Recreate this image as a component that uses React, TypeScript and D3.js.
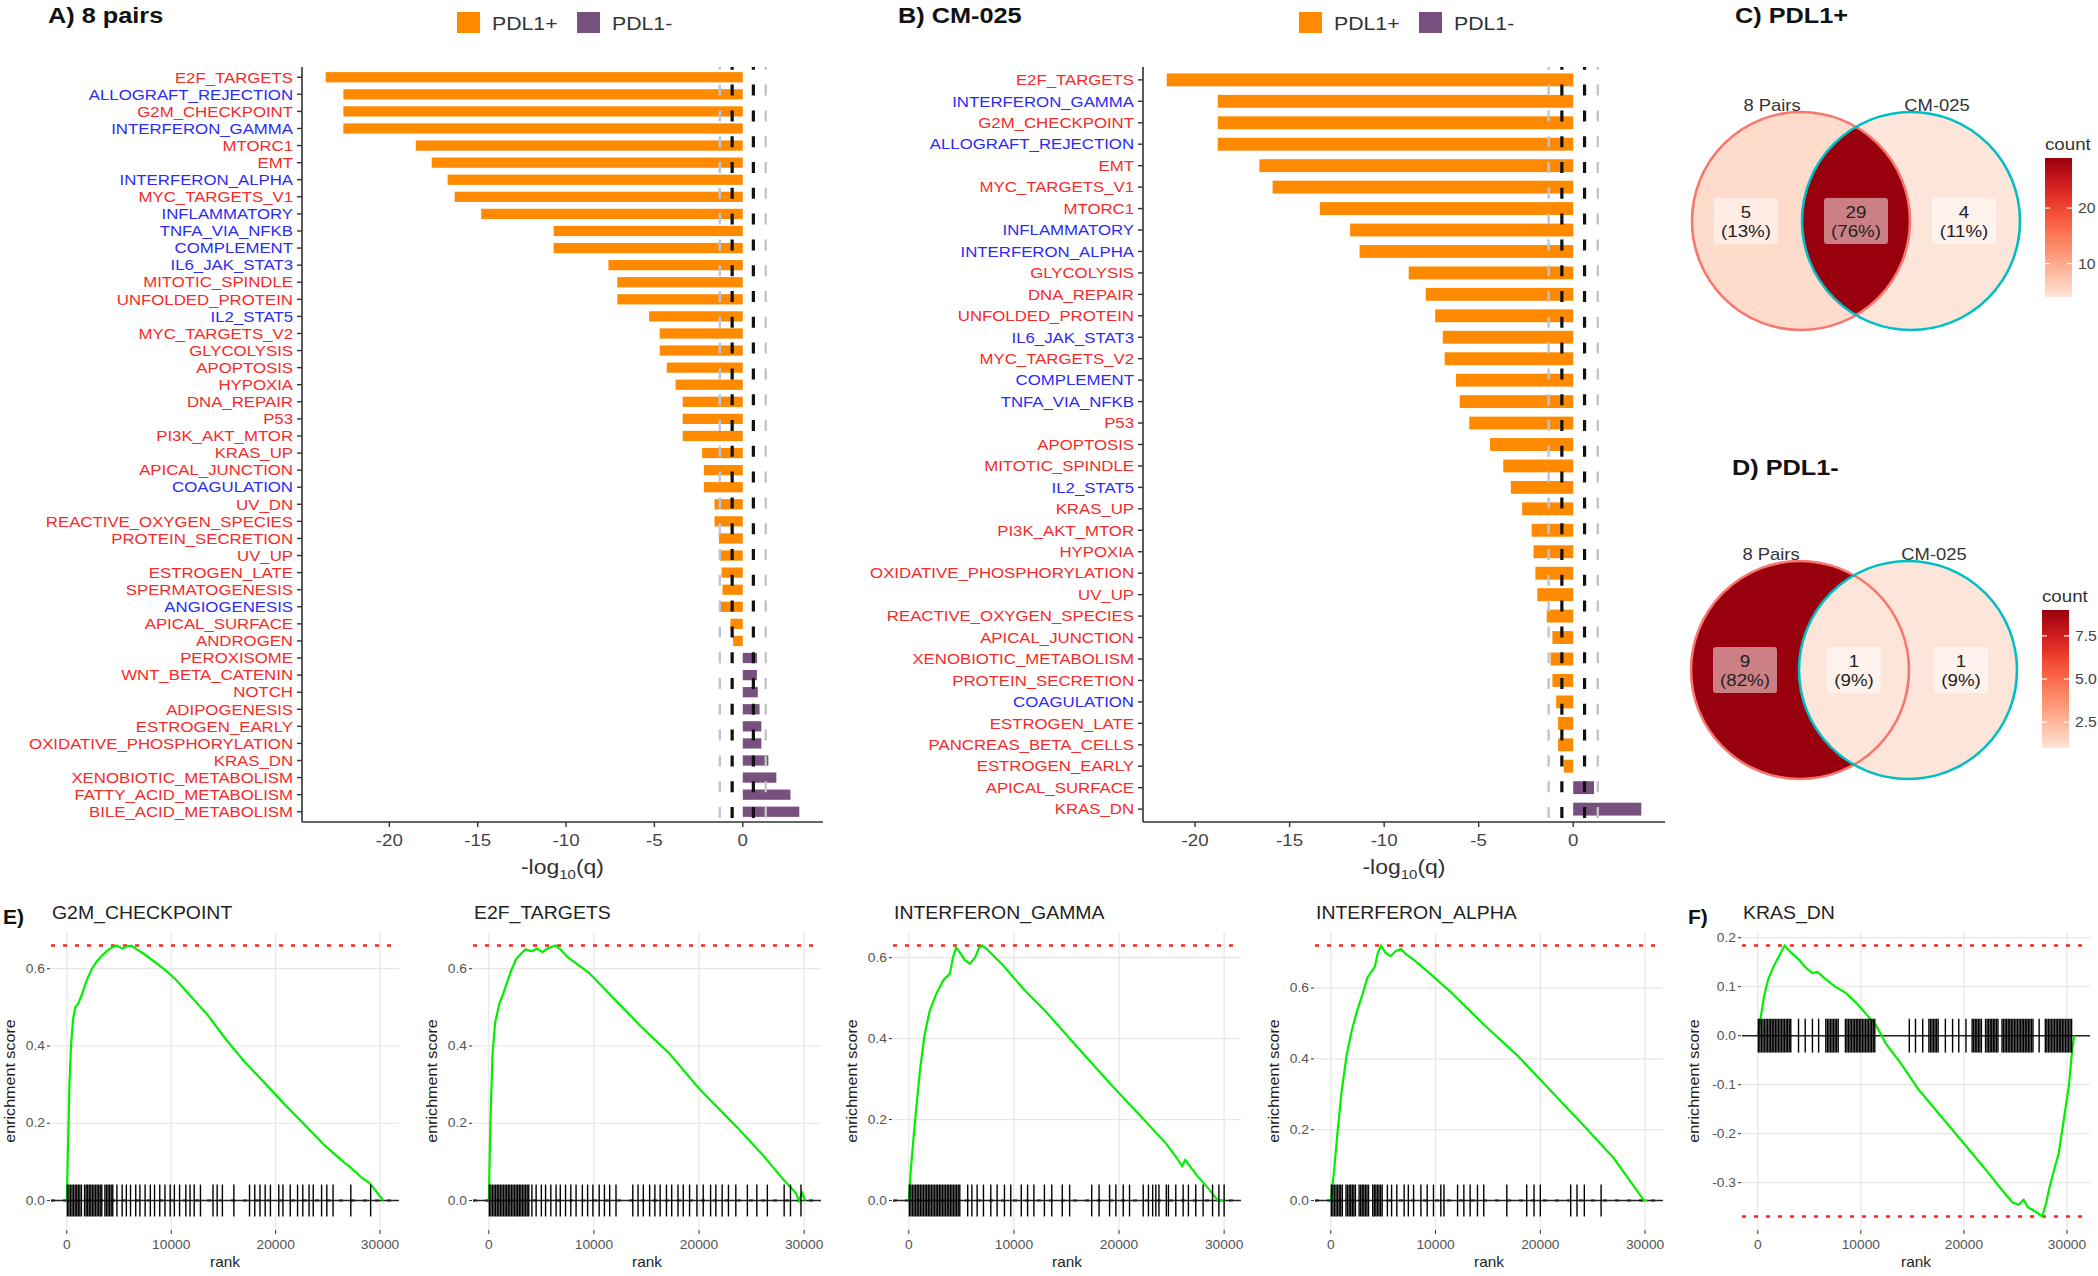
import React from "react";
import * as d3 from "d3";

const FONT = "'Liberation Sans', Arial, Helvetica, sans-serif";
const W = 2098;
const H = 1276;

// ---------------- Panel A: 8 pairs ----------------
const pathwaysA = ["E2F_TARGETS","ALLOGRAFT_REJECTION","G2M_CHECKPOINT","INTERFERON_GAMMA","MTORC1","EMT","INTERFERON_ALPHA","MYC_TARGETS_V1","INFLAMMATORY","TNFA_VIA_NFKB","COMPLEMENT","IL6_JAK_STAT3","MITOTIC_SPINDLE","UNFOLDED_PROTEIN","IL2_STAT5","MYC_TARGETS_V2","GLYCOLYSIS","APOPTOSIS","HYPOXIA","DNA_REPAIR","P53","PI3K_AKT_MTOR","KRAS_UP","APICAL_JUNCTION","COAGULATION","UV_DN","REACTIVE_OXYGEN_SPECIES","PROTEIN_SECRETION","UV_UP","ESTROGEN_LATE","SPERMATOGENESIS","ANGIOGENESIS","APICAL_SURFACE","ANDROGEN","PEROXISOME","WNT_BETA_CATENIN","NOTCH","ADIPOGENESIS","ESTROGEN_EARLY","OXIDATIVE_PHOSPHORYLATION","KRAS_DN","XENOBIOTIC_METABOLISM","FATTY_ACID_METABOLISM","BILE_ACID_METABOLISM"];
const scoreA = [-23.6,-22.6,-22.6,-22.6,-18.5,-17.6,-16.7,-16.3,-14.8,-10.7,-10.7,-7.6,-7.1,-7.1,-5.3,-4.7,-4.7,-4.3,-3.8,-3.4,-3.4,-3.4,-2.3,-2.2,-2.2,-1.6,-1.6,-1.35,-1.3,-1.2,-1.15,-1.3,-0.7,-0.55,0.8,0.8,0.85,0.95,1.05,1.05,1.45,1.9,2.7,3.2];

// ---------------- Panel B: CM-025 ----------------
const pathwaysB = ["E2F_TARGETS","INTERFERON_GAMMA","G2M_CHECKPOINT","ALLOGRAFT_REJECTION","EMT","MYC_TARGETS_V1","MTORC1","INFLAMMATORY","INTERFERON_ALPHA","GLYCOLYSIS","DNA_REPAIR","UNFOLDED_PROTEIN","IL6_JAK_STAT3","MYC_TARGETS_V2","COMPLEMENT","TNFA_VIA_NFKB","P53","APOPTOSIS","MITOTIC_SPINDLE","IL2_STAT5","KRAS_UP","PI3K_AKT_MTOR","HYPOXIA","OXIDATIVE_PHOSPHORYLATION","UV_UP","REACTIVE_OXYGEN_SPECIES","APICAL_JUNCTION","XENOBIOTIC_METABOLISM","PROTEIN_SECRETION","COAGULATION","ESTROGEN_LATE","PANCREAS_BETA_CELLS","ESTROGEN_EARLY","APICAL_SURFACE","KRAS_DN"];
const scoreB = [-21.5,-18.8,-18.8,-18.8,-16.6,-15.9,-13.4,-11.8,-11.3,-8.7,-7.8,-7.3,-6.9,-6.8,-6.2,-6.0,-5.5,-4.4,-3.7,-3.3,-2.7,-2.2,-2.1,-2.0,-1.9,-1.4,-1.1,-1.2,-1.1,-0.9,-0.8,-0.8,-0.5,1.1,3.6];

const immunePathways = ["ALLOGRAFT_REJECTION","INTERFERON_GAMMA","INTERFERON_ALPHA","INFLAMMATORY","TNFA_VIA_NFKB","COMPLEMENT","IL6_JAK_STAT3","IL2_STAT5","COAGULATION","ANGIOGENESIS"];
const thresholds = [-1.3, -0.6, 0.6, 1.3];
const barTicks = [-20, -15, -10, -5, 0];
const legendLabels = ["PDL1+", "PDL1-"];

// ---------------- Venn C / D ----------------
const vennSets = ["8 Pairs", "CM-025"];
const vennPosCounts = [5, 29, 4]; // 8 Pairs only, both, CM-025 only
const vennNegCounts = [9, 1, 1];
const vennPosBreaks = [10, 20];
const vennPosBreakLabels = ["10", "20"];
const vennNegBreaks = [2.5, 5.0, 7.5];
const vennNegBreakLabels = ["2.5", "5.0", "7.5"];

// ---------------- GSEA running sums (rank in thousands, ES) ----------------
const gseaTitles = ["G2M_CHECKPOINT", "E2F_TARGETS", "INTERFERON_GAMMA", "INTERFERON_ALPHA", "KRAS_DN"];
const rankTicks = [0, 10, 20, 30];

const esG2M = [[0,0],[0.1,0.12],[0.25,0.3],[0.4,0.4],[0.6,0.47],[0.8,0.5],[1.1,0.51],[1.4,0.53],[1.9,0.57],[2.4,0.6],[2.9,0.62],[3.4,0.635],[3.8,0.645],[4.3,0.655],[4.8,0.66],[5.3,0.652],[5.8,0.658],[6.2,0.66],[6.6,0.652],[7.3,0.64],[8.3,0.62],[9.5,0.595],[10.5,0.57],[12,0.525],[13.5,0.48],[15.3,0.415],[17,0.36],[19.1,0.3],[21,0.245],[23,0.19],[24.8,0.14],[26.5,0.1],[27.2,0.085],[28.2,0.06],[29,0.045],[29.6,0.025],[30.3,0]];
const esE2F = [[0,0],[0.15,0.2],[0.35,0.38],[0.6,0.46],[1,0.51],[1.3,0.53],[1.8,0.57],[2.2,0.6],[2.6,0.625],[3.1,0.64],[3.5,0.65],[4.1,0.645],[4.6,0.652],[5.1,0.643],[5.6,0.653],[6.35,0.66],[6.9,0.648],[7.5,0.63],[9.5,0.59],[12,0.52],[14.5,0.45],[17.2,0.38],[20,0.29],[23.6,0.19],[26,0.12],[28,0.055],[29.2,0.02],[29.5,0.0],[29.8,0.02],[30.1,0.0]];
const esIFNG = [[0,0],[0.2,0.08],[0.5,0.17],[0.75,0.24],[1.1,0.33],[1.5,0.41],[2,0.47],[2.6,0.51],[3.3,0.545],[3.9,0.56],[4.2,0.6],[4.5,0.625],[4.8,0.615],[5.3,0.595],[5.8,0.585],[6.3,0.6],[6.7,0.625],[7.0,0.63],[7.4,0.622],[9,0.58],[11,0.52],[13.1,0.465],[16,0.38],[19.3,0.285],[22,0.21],[24.5,0.14],[25.5,0.105],[26,0.085],[26.3,0.1],[27.4,0.062],[28.5,0.03],[29.4,0.0],[30.1,0.0]];
const esIFNA = [[0,0],[0.3,0.08],[0.6,0.18],[1,0.3],[1.5,0.41],[2,0.48],[2.5,0.535],[3,0.58],[3.5,0.63],[4.2,0.66],[4.5,0.7],[4.8,0.72],[5.2,0.7],[5.7,0.69],[6.2,0.705],[6.7,0.71],[7.2,0.695],[7.9,0.68],[9.5,0.64],[11.4,0.59],[14.5,0.5],[17.8,0.41],[21,0.31],[24.2,0.21],[27,0.12],[29.9,0.0],[30.2,0.0]];
const esKRASDN = [[0,0],[0.3,0.04],[0.6,0.08],[1,0.115],[1.5,0.14],[2,0.16],[2.6,0.184],[3.2,0.17],[4,0.155],[4.6,0.14],[5.3,0.128],[5.8,0.13],[6.6,0.115],[7.5,0.1],[8.5,0.088],[9.5,0.068],[10.4,0.047],[11.5,0.02],[12.4,-0.015],[14,-0.06],[15.6,-0.11],[18,-0.17],[20,-0.22],[22.1,-0.273],[23.5,-0.31],[24.7,-0.34],[25.3,-0.345],[25.8,-0.335],[26.2,-0.35],[27,-0.36],[27.6,-0.369],[28.0,-0.34],[28.3,-0.31],[28.8,-0.27],[29.2,-0.24],[29.7,-0.17],[30.2,-0.1],[30.5,-0.03],[30.7,0]];

// gene-set hit positions (rank in thousands)
const hitsG2M = [0.05,0.2,0.35,0.5,0.65,0.8,0.95,1.1,1.25,1.4,1.7,1.85,2.0,2.15,2.3,2.45,2.6,2.75,2.9,3.05,3.2,3.35,3.65,3.8,3.95,4.1,4.25,4.4,4.8,5.3,5.7,6.1,6.6,7.0,7.5,8.0,8.4,8.9,9.4,9.9,10.3,10.8,11.4,11.8,12.2,12.8,14.0,14.4,14.9,16.0,17.5,18.0,18.5,19.0,19.5,20.3,20.7,21.4,22.1,22.6,23.2,23.6,24.4,24.9,25.5,27.2,29.1];
const hitsE2F = [0.05,0.2,0.35,0.5,0.65,0.8,0.95,1.1,1.25,1.4,1.55,1.7,1.85,2.0,2.15,2.3,2.45,2.6,2.75,2.9,3.05,3.2,3.35,3.5,3.65,3.8,4.1,4.5,5.0,5.4,5.9,6.4,6.8,7.3,7.8,8.3,8.9,9.4,9.9,10.5,11.0,11.5,12.1,13.7,14.2,14.7,15.3,15.8,16.3,16.9,17.4,18.0,18.5,19.1,19.8,20.4,21.1,21.6,22.2,22.8,23.5,24.6,25.5,26.5,28.1,28.7,29.7];
const hitsIFNG = [0.05,0.2,0.35,0.5,0.65,0.8,0.95,1.1,1.25,1.4,1.55,1.7,1.85,2.0,2.15,2.3,2.45,2.6,2.75,2.9,3.05,3.2,3.35,3.5,3.65,3.8,3.95,4.1,4.25,4.4,4.55,4.7,4.85,5.6,6.0,6.5,7.1,7.8,8.4,9.1,9.7,10.7,11.3,11.9,12.9,13.6,14.6,15.3,17.4,18.1,19.1,19.7,20.4,21.0,22.3,22.8,23.2,23.5,23.8,24.5,24.7,25.4,26.1,26.6,27.3,28.0,28.9,29.5,30.0];
const hitsIFNA = [0.05,0.2,0.35,0.5,0.65,0.8,0.95,1.1,1.45,1.6,1.75,1.9,2.05,2.2,2.35,2.7,2.85,3.0,3.15,3.3,3.45,3.6,4.0,4.15,4.3,4.45,4.6,4.75,4.9,5.4,5.8,6.3,7.0,7.4,7.9,8.6,9.2,9.8,10.5,10.8,12.1,12.7,13.3,14.0,14.6,16.8,18.7,19.4,20.0,22.9,23.5,24.2,25.8];
const hitsKRASDN = [0.05,0.2,0.35,0.5,0.65,0.8,0.95,1.1,1.25,1.4,1.55,1.7,1.85,2.0,2.15,2.3,2.45,2.6,2.75,2.9,3.05,3.2,3.95,4.6,5.3,5.9,6.6,6.75,6.9,7.05,7.2,7.35,7.5,7.65,7.8,8.5,8.65,8.8,8.95,9.1,9.25,9.4,9.55,9.7,9.85,10.0,10.15,10.3,10.45,10.6,10.75,10.9,11.05,11.2,11.35,14.7,15.3,16.0,16.6,16.75,16.9,17.05,17.2,17.35,17.5,18.2,18.9,19.5,20.2,20.8,20.95,21.1,21.25,21.4,21.55,21.7,22.1,22.25,22.4,22.55,22.7,22.85,23.0,23.15,23.3,23.7,23.85,24.0,24.15,24.3,24.45,24.6,24.75,24.9,25.05,25.2,25.35,25.5,25.65,25.8,25.95,26.1,26.25,26.4,26.55,26.7,27.3,27.9,28.05,28.2,28.35,28.5,28.65,28.8,28.95,29.1,29.25,29.4,29.55,29.7,29.85,30.0,30.15,30.3,30.45];

// ---------------- styles ----------------
const ORANGE = "#FF8A00";
const PURPLE = "#77507F";
const barColors = [ORANGE, PURPLE];
const RED_TXT = "#F52A2A";
const BLUE_TXT = "#2B2BF5";
const REDS = ["#FEE5D9", "#FCBBA1", "#FC9272", "#FB6A4A", "#EF3B2C", "#CB181D", "#99000D"];

type TProps = {
  x: number; y: number; size?: number; anchor?: string; sx?: number; weight?: string;
  fill?: string; rotate?: number; children?: React.ReactNode; dy?: string;
};
function T({ x, y, size = 14, anchor = "start", sx = 1, weight = "normal", fill = "#222", rotate = 0, children, dy = "0.35em" }: TProps) {
  let tr = `translate(${x},${y})`;
  if (rotate) tr += ` rotate(${rotate})`;
  if (sx !== 1) tr += ` scale(${sx},1)`;
  return (
    <text transform={tr} fontSize={size} textAnchor={anchor as any} fontWeight={weight} fill={fill} fontFamily={FONT} dy={dy}>
      {children}
    </text>
  );
}

function BarPanel({ cats, vals, left, right, top, bottom, title, titleX, legendX }: any) {
  const ext = d3.extent([...vals, 0]) as [number, number];
  const pad = (ext[1] - ext[0]) * 0.05;
  const x = d3.scaleLinear().domain([ext[0] - pad, ext[1] + pad]).range([left, right]);
  const y = d3.scalePoint<string>().domain(cats).range([top, bottom]).padding(0.6);
  const bh = y.step() * 0.6;
  return (
    <g>
      <T x={titleX} y={15} size={22} weight="bold" sx={1.15} fill="#111">{title}</T>
      {legendLabels.map((lab, i) => (
        <g key={lab}>
          <rect x={legendX + i * 120} y={12} width={23} height={21} fill={barColors[i]} />
          <T x={legendX + i * 120 + 35} y={23} size={19} sx={1.12} fill="#333">{lab}</T>
        </g>
      ))}
      {cats.map((c: string, i: number) => {
        const v = vals[i];
        const x0 = x(Math.min(0, v));
        const x1 = x(Math.max(0, v));
        return <rect key={c} x={x0} y={(y(c) as number) - bh / 2} width={x1 - x0} height={bh} fill={v < 0 ? barColors[0] : barColors[1]} />;
      })}
      {thresholds.map((t) => (
        <line key={t} x1={x(t)} x2={x(t)} y1={bottom} y2={top}
          stroke={Math.abs(t) < 1 ? "#111" : (t < 0 ? "#b8c6d8" : "#c4c4c4")}
          strokeWidth={Math.abs(t) < 1 ? 3.2 : 2.4} strokeDasharray="11 14.8" strokeDashoffset={-4} />
      ))}
      <line x1={left} x2={left} y1={top} y2={bottom} stroke="#333" strokeWidth={1.6} />
      <line x1={left} x2={right} y1={bottom} y2={bottom} stroke="#333" strokeWidth={1.6} />
      {cats.map((c: string) => (
        <g key={c}>
          <line x1={left - 5} x2={left} y1={y(c)} y2={y(c)} stroke="#333" strokeWidth={1.4} />
          <T x={left - 9} y={y(c) as number} size={15} sx={1.12} anchor="end" fill={immunePathways.includes(c) ? BLUE_TXT : RED_TXT}>{c}</T>
        </g>
      ))}
      {barTicks.map((t) => (
        <g key={t}>
          <line x1={x(t)} x2={x(t)} y1={bottom} y2={bottom + 5} stroke="#333" strokeWidth={1.4} />
          <T x={x(t)} y={bottom + 18} size={17} sx={1.1} anchor="middle" fill="#444">{String(t)}</T>
        </g>
      ))}
      <text transform={`translate(${(left + right) / 2},${bottom + 45}) scale(1.15,1)`} textAnchor="middle" fontSize={20} fontFamily={FONT} fill="#333" dy="0.35em">
        -log<tspan fontSize={13} dy={5}>10</tspan><tspan dy={-5}>(q)</tspan>
      </text>
    </g>
  );
}

function VennPanel({ counts, cx1, cx2, cy, r, title, titleX, titleY, barX, barTop, barBottom, breaks, breakLabels, id }: any) {
  const total = d3.sum(counts as number[]);
  const cmin = d3.min(counts as number[]) as number;
  const cmax = d3.max(counts as number[]) as number;
  const color = d3.scaleLinear<string>()
    .domain(REDS.map((_, i) => cmin + ((cmax - cmin) * i) / (REDS.length - 1)))
    .range(REDS).interpolate(d3.interpolateLab);
  const barW = 27;
  const yb = d3.scaleLinear().domain([cmin, cmax]).range([barBottom, barTop]);
  const labX = [cx1 - 55, (cx1 + cx2) / 2, cx2 + 53];
  const stops = d3.range(0, 1.0001, 0.1);
  return (
    <g>
      <defs>
        <clipPath id={`clip-${id}`}><circle cx={cx1} cy={cy} r={r} /></clipPath>
        <linearGradient id={`grad-${id}`} x1="0" y1="1" x2="0" y2="0">
          {stops.map((s) => <stop key={s} offset={s} stopColor={color(cmin + (cmax - cmin) * s)} />)}
        </linearGradient>
      </defs>
      <T x={titleX} y={titleY} size={22} weight="bold" sx={1.15} fill="#111">{title}</T>
      <circle cx={cx1} cy={cy} r={r} fill={color(counts[0])} />
      <circle cx={cx2} cy={cy} r={r} fill={color(counts[2])} />
      <circle cx={cx2} cy={cy} r={r} fill={color(counts[1])} clipPath={`url(#clip-${id})`} />
      <circle cx={cx1} cy={cy} r={r} fill="none" stroke="#F8766D" strokeWidth={2.6} />
      <circle cx={cx2} cy={cy} r={r} fill="none" stroke="#00BFC4" strokeWidth={2.6} />
      <T x={cx1 - 29} y={cy - 116} size={16} sx={1.15} anchor="middle" fill="#333">{vennSets[0]}</T>
      <T x={cx2 + 26} y={cy - 116} size={16} sx={1.15} anchor="middle" fill="#333">{vennSets[1]}</T>
      {counts.map((c: number, i: number) => {
        const pct = `(${Math.round((c / total) * 100)}%)`;
        const w = Math.max(String(c).length, pct.length) * 10 + 14;
        return (
          <g key={i}>
            <rect x={labX[i] - w / 2} y={cy - 23} width={w} height={46} rx={3} fill="#fff" fillOpacity={0.5} />
            <T x={labX[i]} y={cy - 9} size={17} sx={1.1} anchor="middle" fill="#222">{String(c)}</T>
            <T x={labX[i]} y={cy + 10} size={17} sx={1.1} anchor="middle" fill="#222">{pct}</T>
          </g>
        );
      })}
      <T x={barX} y={barTop - 14} size={17} sx={1.1} fill="#333">count</T>
      <rect x={barX} y={barTop} width={barW} height={barBottom - barTop} fill={`url(#grad-${id})`} />
      {breaks.map((b: number, i: number) => (
        <g key={b}>
          <line x1={barX} x2={barX + 5} y1={yb(b)} y2={yb(b)} stroke="#fff" strokeWidth={1.2} />
          <line x1={barX + barW - 5} x2={barX + barW} y1={yb(b)} y2={yb(b)} stroke="#fff" strokeWidth={1.2} />
          <T x={barX + barW + 6} y={yb(b)} size={15} sx={1.05} fill="#444">{breakLabels[i]}</T>
        </g>
      ))}
    </g>
  );
}

function GseaPanel({ title, curve, hits, left, tag }: any) {
  const top = 932, bottom = 1230, width = 348;
  const ranks = curve.map((d: number[]) => d[0]);
  const es = curve.map((d: number[]) => d[1]);
  const maxR = d3.max(ranks) as number;
  const x = d3.scaleLinear().domain([-0.05 * maxR, 1.05 * maxR]).range([left, left + width]);
  const esMax = d3.max(es) as number;
  const esMin = d3.min(es) as number;
  const diff = (esMax - esMin) / 8;
  const lo = Math.min(esMin, -diff / 2);
  const hi = Math.max(esMax, diff / 2);
  const py = (hi - lo) * 0.05;
  const y = d3.scaleLinear().domain([lo - py, hi + py]).range([bottom, top]);
  const yTicks = y.ticks(5);
  const line = d3.line<number[]>().x((d) => x(d[0])).y((d) => y(d[1]));
  const hasNeg = yTicks.some((t) => t < 0);
  return (
    <g>
      {tag && <T x={left - (hasNeg ? 54 : 48)} y={917} size={21} weight="bold" fill="#111">{tag}</T>}
      <T x={left + 1} y={913} size={18} sx={1.08} fill="#222">{title}</T>
      {yTicks.map((t) => (
        <line key={"gy" + t} x1={left} x2={left + width} y1={y(t)} y2={y(t)} stroke="#e6e6e6" strokeWidth={1.2} />
      ))}
      {rankTicks.map((t) => (
        <line key={"gx" + t} x1={x(t)} x2={x(t)} y1={top} y2={bottom} stroke="#e6e6e6" strokeWidth={1.2} />
      ))}
      <line x1={left} x2={left + width} y1={y(esMax)} y2={y(esMax)} stroke="#FF2020" strokeWidth={2.6} strokeDasharray="4 8" />
      <line x1={left} x2={left + width} y1={y(esMin)} y2={y(esMin)} stroke="#FF2020" strokeWidth={2.6} strokeDasharray="4 8" />
      <line x1={left} x2={left + width} y1={y(0)} y2={y(0)} stroke="#222" strokeWidth={1.6} />
      <path d={line(curve) as string} fill="none" stroke="#00F000" strokeWidth={2.2} />
      {hits.map((h: number, i: number) => (
        <line key={i} x1={x(h)} x2={x(h)} y1={y(-diff / 2)} y2={y(diff / 2)} stroke="#000" strokeWidth={1.4} />
      ))}
      {yTicks.map((t) => (
        <g key={"ty" + t}>
          <line x1={left - 4} x2={left - 1} y1={y(t)} y2={y(t)} stroke="#333" strokeWidth={1} />
          <T x={left - 6} y={y(t)} size={12} sx={1.15} anchor="end" fill="#555">{t.toFixed(1)}</T>
        </g>
      ))}
      {rankTicks.map((t) => (
        <g key={"tx" + t}>
          <line x1={x(t)} x2={x(t)} y1={bottom} y2={bottom + 4} stroke="#333" strokeWidth={1} />
          <T x={x(t)} y={bottom + 15} size={12} sx={1.15} anchor="middle" fill="#555">{String(t * 1000)}</T>
        </g>
      ))}
      <T x={left - (hasNeg ? 48 : 41)} y={(top + bottom) / 2} size={14} sx={1.15} rotate={-90} anchor="middle" fill="#222">enrichment score</T>
      <T x={left + width / 2} y={1262} size={14} sx={1.1} anchor="middle" fill="#222">rank</T>
    </g>
  );
}

const gseaCurves = [esG2M, esE2F, esIFNG, esIFNA, esKRASDN];
const gseaHits = [hitsG2M, hitsE2F, hitsIFNG, hitsIFNA, hitsKRASDN];
const gseaLefts = [51, 473, 893, 1315, 1742];
const gseaTags = ["E)", "", "", "", "F)"];

export default function App() {
  return (
    <div style={{ position: "absolute", left: 0, top: 0, width: W, height: H, overflow: "hidden", background: "#fff" }}>
      <svg width={W} height={H} viewBox={`0 0 ${W} ${H}`} style={{ display: "block" }}>
        <rect width={W} height={H} fill="#fff" />
        <BarPanel cats={pathwaysA} vals={scoreA} left={302} right={823} top={67} bottom={822} title="A) 8 pairs" titleX={48} legendX={457} />
        <BarPanel cats={pathwaysB} vals={scoreB} left={1143} right={1665} top={67} bottom={822} title="B) CM-025" titleX={898} legendX={1299} />
        <VennPanel id="pos" counts={vennPosCounts} cx1={1801} cx2={1911} cy={221} r={109} title="C) PDL1+" titleX={1735} titleY={15}
          barX={2045} barTop={158} barBottom={297} breaks={vennPosBreaks} breakLabels={vennPosBreakLabels} />
        <VennPanel id="neg" counts={vennNegCounts} cx1={1800} cx2={1908} cy={670} r={109} title="D) PDL1-" titleX={1732} titleY={467}
          barX={2042} barTop={610} barBottom={748} breaks={vennNegBreaks} breakLabels={vennNegBreakLabels} />
        {gseaTitles.map((t, i) => (
          <GseaPanel key={t} title={t} curve={gseaCurves[i]} hits={gseaHits[i]} left={gseaLefts[i]} tag={gseaTags[i]} />
        ))}
      </svg>
    </div>
  );
}
